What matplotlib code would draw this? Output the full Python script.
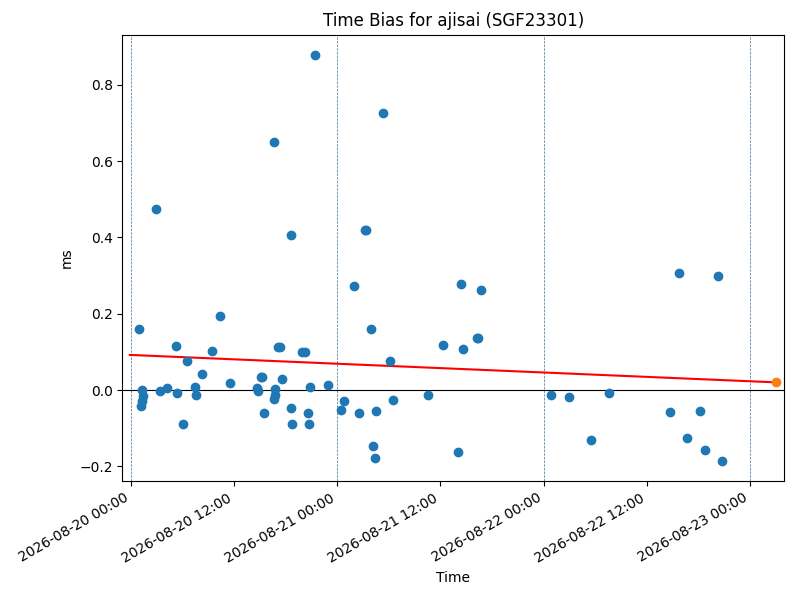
import matplotlib
matplotlib.use("Agg")
import matplotlib.pyplot as plt
import matplotlib.dates as mdates
import pandas as pd

title = "Time Bias for ajisai (SGF23301)"

obs_times = [
    "2026-08-20 00:51", "2026-08-20 01:16", "2026-08-20 01:22", "2026-08-20 01:18", "2026-08-20 01:06",
    "2026-08-20 02:51", "2026-08-20 03:19", "2026-08-20 04:07", "2026-08-20 05:09", "2026-08-20 05:20",
    "2026-08-20 06:02", "2026-08-20 06:30", "2026-08-20 07:27", "2026-08-20 07:30", "2026-08-20 08:14",
    "2026-08-20 09:27", "2026-08-20 10:20", "2026-08-20 11:30", "2026-08-20 14:39", "2026-08-20 14:43",
    "2026-08-20 15:05", "2026-08-20 15:13", "2026-08-20 15:28", "2026-08-20 16:44", "2026-08-20 16:47",
    "2026-08-20 16:38", "2026-08-20 16:37", "2026-08-20 17:02", "2026-08-20 17:20", "2026-08-20 17:33",
    "2026-08-20 18:34", "2026-08-20 18:36", "2026-08-20 18:43", "2026-08-20 19:56", "2026-08-20 20:14",
    "2026-08-20 20:35", "2026-08-20 20:39", "2026-08-20 20:47", "2026-08-20 21:24", "2026-08-20 22:55",
    "2026-08-21 00:23", "2026-08-21 00:46", "2026-08-21 01:54", "2026-08-21 02:31", "2026-08-21 03:11",
    "2026-08-21 03:21", "2026-08-21 03:53", "2026-08-21 04:09", "2026-08-21 04:21", "2026-08-21 04:28",
    "2026-08-21 05:19", "2026-08-21 06:05", "2026-08-21 06:26", "2026-08-21 10:33", "2026-08-21 12:16",
    "2026-08-21 14:06", "2026-08-21 14:23", "2026-08-21 14:35", "2026-08-21 16:14", "2026-08-21 16:24",
    "2026-08-21 16:41",
    "2026-08-22 00:54", "2026-08-22 02:58", "2026-08-22 05:29", "2026-08-22 07:35", "2026-08-22 14:43",
    "2026-08-22 15:46", "2026-08-22 16:40", "2026-08-22 18:13", "2026-08-22 18:48", "2026-08-22 20:19",
    "2026-08-22 20:47",
]
obs_bias_ms = [
    0.159, 0.000, -0.016, -0.028, -0.042,
    0.475, -0.003, 0.004, 0.115, -0.009,
    -0.089, 0.075, 0.009, -0.014, 0.041,
    0.102, 0.194, 0.018, 0.006, -0.002,
    0.033, 0.033, -0.059, 0.002, -0.013,
    -0.024, 0.651, 0.113, 0.113, 0.029,
    0.407, -0.047, -0.088, 0.099, 0.099,
    -0.061, -0.090, 0.008, 0.877, 0.012,
    -0.052, -0.029, 0.272, -0.061, 0.419,
    0.419, 0.160, -0.147, -0.178, -0.055,
    0.726, 0.075, -0.026, -0.014, 0.118,
    -0.163, 0.278, 0.107, 0.136, 0.136,
    0.262,
    -0.013, -0.018, -0.132, -0.009, -0.058,
    0.306, -0.127, -0.055, -0.158, 0.299,
    -0.186,
]

pred_time = ["2026-08-23 03:06"]
pred_bias_ms = [0.020]

trend_times = ["2026-08-19 23:50", "2026-08-23 03:06"]
trend_bias_ms = [0.092, 0.020]

day_lines = ["2026-08-20", "2026-08-21", "2026-08-22", "2026-08-23"]
x_limits = ["2026-08-19 22:58", "2026-08-23 04:00"]
y_limits = [-0.239, 0.931]

t_obs = pd.to_datetime(obs_times)
t_pred = pd.to_datetime(pred_time)
t_trend = pd.to_datetime(trend_times)

fig, ax = plt.subplots(figsize=(8, 6), dpi=100)

for d in pd.to_datetime(day_lines):
    ax.axvline(d, color="#3f6f94", linestyle="--", linewidth=0.5, zorder=1)
ax.axhline(0, color="black", linewidth=0.8, zorder=1)

ax.plot(t_trend, trend_bias_ms, color="red", linewidth=1.5, zorder=2)
ax.scatter(t_obs, obs_bias_ms, color="C0", zorder=3)
ax.scatter(t_pred, pred_bias_ms, color="C1", zorder=3)

ax.set_xlim(pd.to_datetime(x_limits[0]), pd.to_datetime(x_limits[1]))
ax.set_ylim(y_limits)
ax.xaxis.set_major_locator(mdates.HourLocator(byhour=[0, 12]))
ax.xaxis.set_major_formatter(mdates.DateFormatter("%Y-%m-%d %H:%M"))

ax.set_title(title)
ax.set_xlabel("Time")
ax.set_ylabel("ms")

fig.autofmt_xdate()
fig.subplots_adjust(left=0.153, right=0.980, top=0.942, bottom=0.198)
fig.savefig("out.png", dpi=100)
